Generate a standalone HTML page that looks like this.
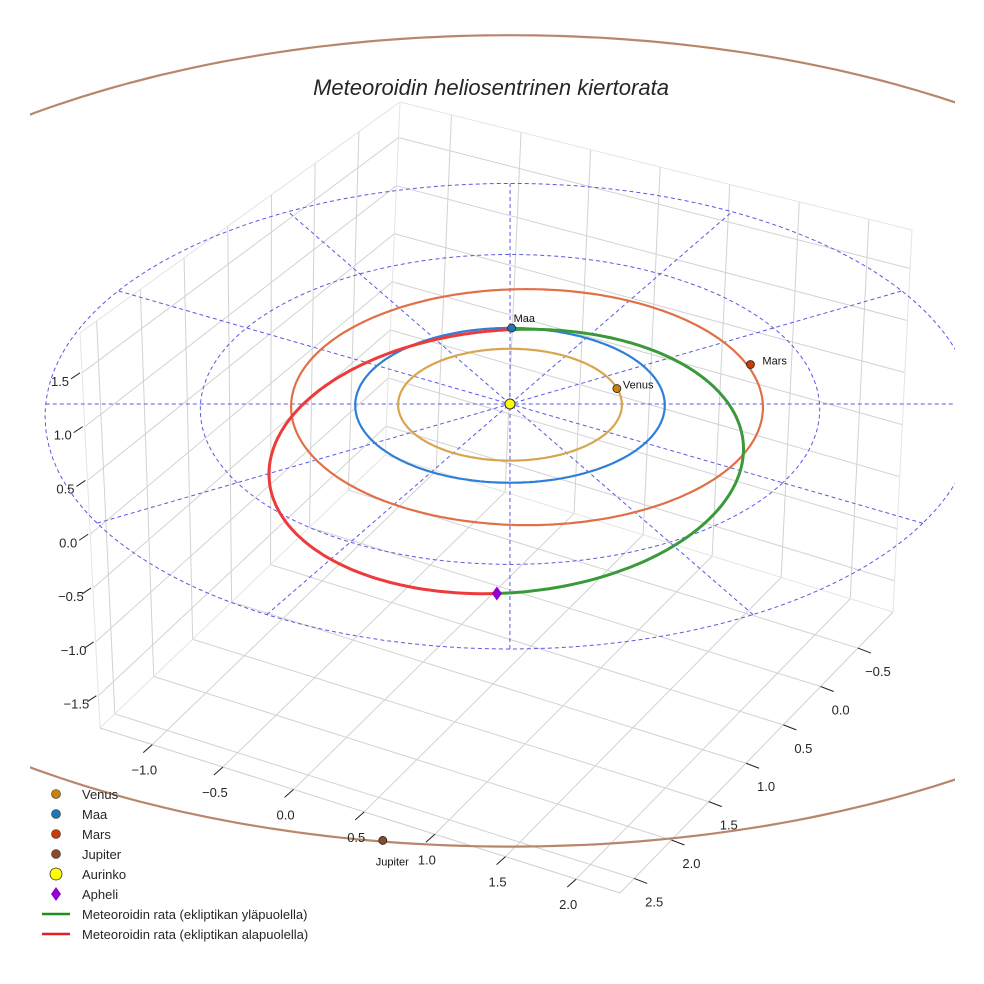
<!DOCTYPE html>
<html><head><meta charset="utf-8"><title>Meteoroidin heliosentrinen kiertorata</title>
<style>
html,body{margin:0;padding:0;background:#fff;}
svg{display:block;font-family:"Liberation Sans",sans-serif;}
</style></head>
<body>
<svg id="chart" width="984" height="984" viewBox="0 0 984 984" xmlns="http://www.w3.org/2000/svg">
<defs><clipPath id="axclip"><rect x="30" y="0" width="925" height="984"/></clipPath></defs>
<rect width="984" height="984" fill="#fff"/>
<g id="walls"></g>
<g clip-path="url(#axclip)">
<g id="grid"></g>
<g id="orbits"></g>
<g id="meteor"></g>
</g>
<g id="marks"></g>
<g id="ticks"></g>
<text x="491" y="95" text-anchor="middle" font-size="22" font-style="italic" fill="#262626">Meteoroidin heliosentrinen kiertorata</text>
<g id="legend"></g>
</svg>
<script>
// ---- data ----
const planetNames = ["Venus", "Maa", "Mars", "Jupiter"];
const planetRadii = [0.723, 1.0, 1.524, 5.2];
const orbitCenterX = [0.0, 0.0, 0.095, 0.0];
const orbitCenterY = [0.0, 0.0, -0.055, 0.0];
const planetX = [0.50, -0.49, 1.10, 1.92];
const planetY = [-0.52, -0.87, -1.23, 4.82];
const planetColors = ["#c8820f", "#1f77b4", "#cc3a08", "#8b4a2b"];
const orbitColors = ["#d9a54e", "#2f7fd6", "#e07048", "#b8876b"];
const meteorPerihelion = 0.98;
const meteorAphelion = 2.35;
const meteorInclinationDeg = 4;
const meteorPeriDir = [-0.47, -0.883];
const gridRadii = [1, 2, 3];
const gridAnglesDeg = [0, 30, 60, 90, 120, 150];
const xTicks = [-1.0, -0.5, 0.0, 0.5, 1.0, 1.5, 2.0];
const yTicks = [-0.5, 0.0, 0.5, 1.0, 1.5, 2.0, 2.5];
const zTicks = [-1.5, -1.0, -0.5, 0.0, 0.5, 1.0, 1.5];
const xLim = [-1.37, 2.31];
const yLim = [-0.97, 2.69];
const zLim = [-1.8, 1.87];

const NS = "http://www.w3.org/2000/svg";
function mk(tag, attrs, parent){const e=document.createElementNS(NS,tag);for(const k in attrs)e.setAttribute(k,attrs[k]);parent.appendChild(e);return e;}
const fmt = v => (v<0?"\u2212":"")+Math.abs(v).toFixed(1);

const O=[510,404], A=[134,38.7], B=[-77.4,67], C=108;
function proj(x,y,z){
  const sx=x*A[0]+y*B[0], sy=x*A[1]+y*B[1];
  const d=sy/77.4; const g=1/(1-0.0175*d);
  return [O[0]+sx*g, O[1]+(sy-z*C)*g];
}

const Bt=[400,102], Lt=[80,333], Rt=[912,230], Bb=[385,455], Lb=[100,728], Rb=[893,612], Fb=[620,893];
function bil(p00,p10,p01,p11,u,v){return [p00[0]*(1-u)*(1-v)+p10[0]*u*(1-v)+p01[0]*(1-u)*v+p11[0]*u*v, p00[1]*(1-u)*(1-v)+p10[1]*u*(1-v)+p01[1]*(1-u)*v+p11[1]*u*v];}
const fx=x=>(x-xLim[0])/(xLim[1]-xLim[0]);
const fy=y=>(y-yLim[0])/(yLim[1]-yLim[0]);
const fz=z=>(zLim[1]-z)/(zLim[1]-zLim[0]);
const walls=document.getElementById('walls');
function ln(p,q,col,w,parent,name){const e=mk('line',{x1:p[0],y1:p[1],x2:q[0],y2:q[1],stroke:col,'stroke-width':w},parent);return e;}
const gc="#d2d2d2";
yTicks.forEach(t=>{const u=fy(t);ln(bil(Bt,Lt,Bb,Lb,u,0),bil(Bt,Lt,Bb,Lb,u,1),gc,1,walls,'left-wall-gridline');});
zTicks.forEach(t=>{const v=fz(t);ln(bil(Bt,Lt,Bb,Lb,0,v),bil(Bt,Lt,Bb,Lb,1,v),gc,1,walls,'left-wall-gridline');});
xTicks.forEach(t=>{const u=fx(t);ln(bil(Bt,Rt,Bb,Rb,u,0),bil(Bt,Rt,Bb,Rb,u,1),gc,1,walls,'right-wall-gridline');});
zTicks.forEach(t=>{const v=fz(t);ln(bil(Bt,Rt,Bb,Rb,0,v),bil(Bt,Rt,Bb,Rb,1,v),gc,1,walls,'right-wall-gridline');});
xTicks.forEach(t=>{const u=fx(t);ln(bil(Bb,Rb,Lb,Fb,u,0),bil(Bb,Rb,Lb,Fb,u,1),gc,1,walls,'floor-gridline');});
yTicks.forEach(t=>{const v=fy(t);ln(bil(Bb,Rb,Lb,Fb,0,v),bil(Bb,Rb,Lb,Fb,1,v),gc,1,walls,'floor-gridline');});
const ec="#e4e4e4";
[[Bt,Lt],[Bt,Rt],[Lt,Lb],[Rt,Rb],[Bt,Bb],[Bb,Lb],[Bb,Rb]].forEach(p=>ln(p[0],p[1],ec,1,walls,'pane-edge'));
[[Lb,Fb],[Rb,Fb]].forEach(p=>ln(p[0],p[1],"#cfcfcf",1,walls,'axis-edge'));

const tk=document.getElementById('ticks');
function lab(x,y,s,name){const e=mk('text',{x:x,y:y,'text-anchor':'middle','font-size':13,fill:'#262626'},tk);e.textContent=s;}
zTicks.forEach(t=>{const p=bil(Bt,Lt,Bb,Lb,1,fz(t));ln([p[0]-2,p[1]],[p[0]-11,p[1]+6],"#222",1,tk,'z-tick');lab(p[0]-22,p[1]+13,fmt(t),'z-tick-label');});
xTicks.forEach(t=>{const p=bil(Bb,Rb,Lb,Fb,fx(t),1);ln(p,[p[0]-9,p[1]+8],"#222",1,tk,'x-tick');lab(p[0]-8,p[1]+30,fmt(t),'x-tick-label');});
yTicks.forEach(t=>{const p=bil(Bb,Rb,Lb,Fb,1,fy(t));ln(p,[p[0]+13,p[1]+5],"#222",1,tk,'y-tick');lab(p[0]+20,p[1]+28,fmt(t),'y-tick-label');});

const grid=document.getElementById('grid');
function pathFrom(pts){return pts.map((p,i)=>(i?'L':'M')+p[0].toFixed(1)+' '+p[1].toFixed(1)).join(' ');}
function circlePts(r,a0,a1,n,cx,cy){cx=cx||0;cy=cy||0;const pts=[];for(let i=0;i<=n;i++){const a=a0+(a1-a0)*i/n;pts.push(proj(cx+r*Math.cos(a),cy+r*Math.sin(a),0));}return pts;}
gridRadii.forEach(r=>{const e=mk('path',{d:pathFrom(circlePts(r,0,2*Math.PI,240)),fill:'none',stroke:'#5a5ae0','stroke-width':1,'stroke-dasharray':'4 3'},grid);});
const rMax=gridRadii[gridRadii.length-1];
gridAnglesDeg.forEach(d=>{const a=d*Math.PI/180;const p=proj(rMax*Math.cos(a),rMax*Math.sin(a),0),q=proj(-rMax*Math.cos(a),-rMax*Math.sin(a),0);
  const e=mk('line',{x1:p[0],y1:p[1],x2:q[0],y2:q[1],stroke:'#5a5ae0','stroke-width':1,'stroke-dasharray':'4 3'},grid);});

const orb=document.getElementById('orbits');
planetRadii.forEach((r,i)=>{const e=mk('path',{d:pathFrom(circlePts(r,0,2*Math.PI,360,orbitCenterX[i],orbitCenterY[i])),fill:'none',stroke:orbitColors[i],'stroke-width':2.2},orb);
  });

const met=document.getElementById('meteor');
const sa=(meteorPerihelion+meteorAphelion)/2, ecc=(meteorAphelion-meteorPerihelion)/(meteorAphelion+meteorPerihelion);
const inc=meteorInclinationDeg*Math.PI/180;
const pl=Math.hypot(meteorPeriDir[0],meteorPeriDir[1]);const P=[meteorPeriDir[0]/pl,meteorPeriDir[1]/pl];const Q=[-P[1],P[0]];
function metPt(nu){const r=sa*(1-ecc*ecc)/(1+ecc*Math.cos(nu));const c=r*Math.cos(nu),s=r*Math.sin(nu);
  return proj(c*P[0]+s*Math.cos(inc)*Q[0], c*P[1]+s*Math.cos(inc)*Q[1], s*Math.sin(inc));}
function half(a0,a1){const pts=[];for(let i=0;i<=200;i++)pts.push(metPt(a0+(a1-a0)*i/200));return pts;}
let e1=mk('path',{d:pathFrom(half(0,Math.PI)),fill:'none',stroke:'#3a9a3a','stroke-width':3},met);


let e2=mk('path',{d:pathFrom(half(Math.PI,2*Math.PI)),fill:'none',stroke:'#ee3a3a','stroke-width':3},met);



const mks=document.getElementById('marks');
const sun=proj(0,0,0);
let su=mk('circle',{cx:sun[0],cy:sun[1],r:5,fill:'#ffff00',stroke:'#333','stroke-width':1},mks);


const ap=metPt(Math.PI);
let apm=mk('path',{d:`M${ap[0]} ${ap[1]-7} L${ap[0]+5} ${ap[1]} L${ap[0]} ${ap[1]+7} L${ap[0]-5} ${ap[1]} Z`,fill:'#9400d3'},mks);


const labOff=[[6,0],[2,-6],[12,0],[-7,25]];
planetNames.forEach((n,i)=>{const p=proj(planetX[i],planetY[i],0);
  const c=mk('circle',{cx:p[0],cy:p[1],r:4,fill:planetColors[i],stroke:'#222','stroke-width':0.8},mks);
  
  
  const t=mk('text',{x:p[0]+labOff[i][0],y:p[1]+labOff[i][1],'font-size':11,fill:'#111'},mks);t.textContent=n;
  
  });

const lg=document.getElementById('legend');
const legendLabels=["Venus","Maa","Mars","Jupiter","Aurinko","Apheli","Meteoroidin rata (ekliptikan yläpuolella)","Meteoroidin rata (ekliptikan alapuolella)"];
legendLabels.forEach((s,i)=>{const y=794+i*20;const g=mk('g',{},lg);
  
  
  if(i<4)mk('circle',{cx:56,cy:y,r:4.5,fill:planetColors[i],stroke:'#333','stroke-width':0.6},g);
  else if(i===4)mk('circle',{cx:56,cy:y,r:6,fill:'#ffff00',stroke:'#333','stroke-width':0.8},g);
  else if(i===5)mk('path',{d:`M56 ${y-7} L61 ${y} L56 ${y+7} L51 ${y} Z`,fill:'#9400d3'},g);
  else mk('line',{x1:42,y1:y,x2:70,y2:y,stroke:i===6?'#228b22':'#e02020','stroke-width':2.5},g);
  const t=mk('text',{x:82,y:y+5,'font-size':13,fill:'#262626'},g);t.textContent=s;});
</script>
</body></html>
